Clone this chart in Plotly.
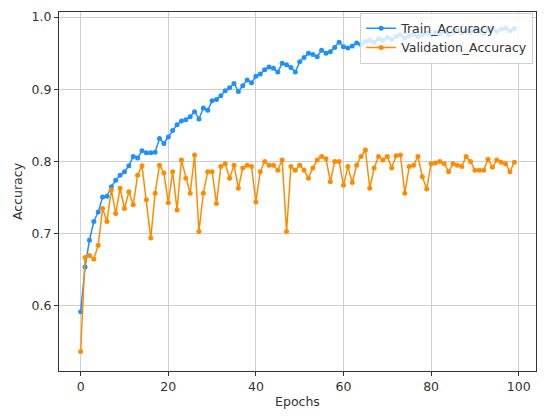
"""Train vs validation accuracy per epoch."""

import plotly.graph_objects as go

epochs = list(range(100))

train_acc = [
    0.592, 0.654, 0.691, 0.717, 0.730, 0.751, 0.752, 0.765, 0.774, 0.781,
    0.786, 0.794, 0.807, 0.805, 0.815, 0.812, 0.812, 0.813, 0.832, 0.825,
    0.834, 0.843, 0.851, 0.856, 0.858, 0.862, 0.869, 0.859, 0.874, 0.871,
    0.884, 0.886, 0.891, 0.898, 0.902, 0.908, 0.897, 0.905, 0.913, 0.909,
    0.918, 0.921, 0.927, 0.931, 0.929, 0.924, 0.936, 0.934, 0.930, 0.924,
    0.938, 0.944, 0.950, 0.948, 0.945, 0.954, 0.950, 0.952, 0.958, 0.965,
    0.959, 0.957, 0.960, 0.964, 0.962, 0.966, 0.968, 0.965, 0.970, 0.968,
    0.972, 0.969, 0.973, 0.975, 0.971, 0.974, 0.977, 0.973, 0.976, 0.978,
    0.975, 0.979, 0.977, 0.980, 0.976, 0.979, 0.981, 0.978, 0.982, 0.979,
    0.983, 0.980, 0.978, 0.982, 0.984, 0.980, 0.983, 0.985, 0.981, 0.984,
]

val_acc = [
    0.537, 0.667, 0.670, 0.665, 0.684, 0.735, 0.717, 0.761, 0.728, 0.763,
    0.735, 0.758, 0.740, 0.781, 0.794, 0.747, 0.694, 0.756, 0.795, 0.784,
    0.743, 0.786, 0.733, 0.802, 0.777, 0.756, 0.809, 0.703, 0.756, 0.786,
    0.786, 0.742, 0.793, 0.797, 0.777, 0.795, 0.763, 0.791, 0.795, 0.793,
    0.744, 0.786, 0.800, 0.795, 0.795, 0.788, 0.802, 0.703, 0.793, 0.788,
    0.795, 0.788, 0.777, 0.791, 0.802, 0.807, 0.804, 0.772, 0.800, 0.800,
    0.767, 0.793, 0.771, 0.795, 0.807, 0.816, 0.763, 0.791, 0.807, 0.802,
    0.807, 0.791, 0.808, 0.809, 0.756, 0.793, 0.795, 0.807, 0.779, 0.762,
    0.797, 0.798, 0.800, 0.797, 0.786, 0.797, 0.795, 0.793, 0.807, 0.800,
    0.788, 0.788, 0.788, 0.803, 0.792, 0.802, 0.799, 0.797, 0.786, 0.799,
]

x_ticks = [0, 20, 40, 60, 80, 100]
y_ticks = [0.6, 0.7, 0.8, 0.9, 1.0]

_BLUE = "#1e90ff"
_ORANGE = "#ff8c00"
_FONT = "DejaVu Sans"
_TEXT = "#333333"

fig = go.Figure()
fig.add_trace(go.Scatter(
    x=epochs, y=train_acc, mode="lines+markers", name="Train_Accuracy",
    line=dict(color=_BLUE, width=1.5), marker=dict(color=_BLUE, size=5),
))
fig.add_trace(go.Scatter(
    x=epochs, y=val_acc, mode="lines+markers", name="Validation_Accuracy",
    line=dict(color=_ORANGE, width=1.5), marker=dict(color=_ORANGE, size=5),
))

axis_style = dict(
    showgrid=True, gridcolor="#cfcfcf", gridwidth=1,
    showline=True, linecolor="#333333", linewidth=1, mirror=True,
    ticks="outside", ticklen=4, tickcolor="#333333",
    tickfont=dict(family=_FONT, size=12.5, color=_TEXT),
    zeroline=False, automargin=False,
)

# the page body adds an 8px offset, so the figure is a little smaller than the window
fig.update_layout(
    width=542, height=410,
    margin=dict(l=51, r=14, t=4, b=47),
    paper_bgcolor="white", plot_bgcolor="white",
    font=dict(family=_FONT, size=12.5, color=_TEXT),
    xaxis=dict(axis_style, range=[-4.95, 103.95], tickvals=x_ticks,
               title=dict(text="Epochs", standoff=4,
                          font=dict(family=_FONT, size=12.5, color=_TEXT))),
    yaxis=dict(axis_style, range=[0.51, 1.007], tickvals=y_ticks,
               tickformat=".1f",
               title=dict(text="Accuracy", standoff=6,
                          font=dict(family=_FONT, size=12.5, color=_TEXT))),
    legend=dict(
        x=0.994, y=0.998, xanchor="right", yanchor="top",
        bgcolor="rgba(255,255,255,0.8)", bordercolor="#d0d0d0", borderwidth=1,
        font=dict(family=_FONT, size=12.5, color=_TEXT),
        tracegroupgap=0,
    ),
)

fig.write_html("out.html")
